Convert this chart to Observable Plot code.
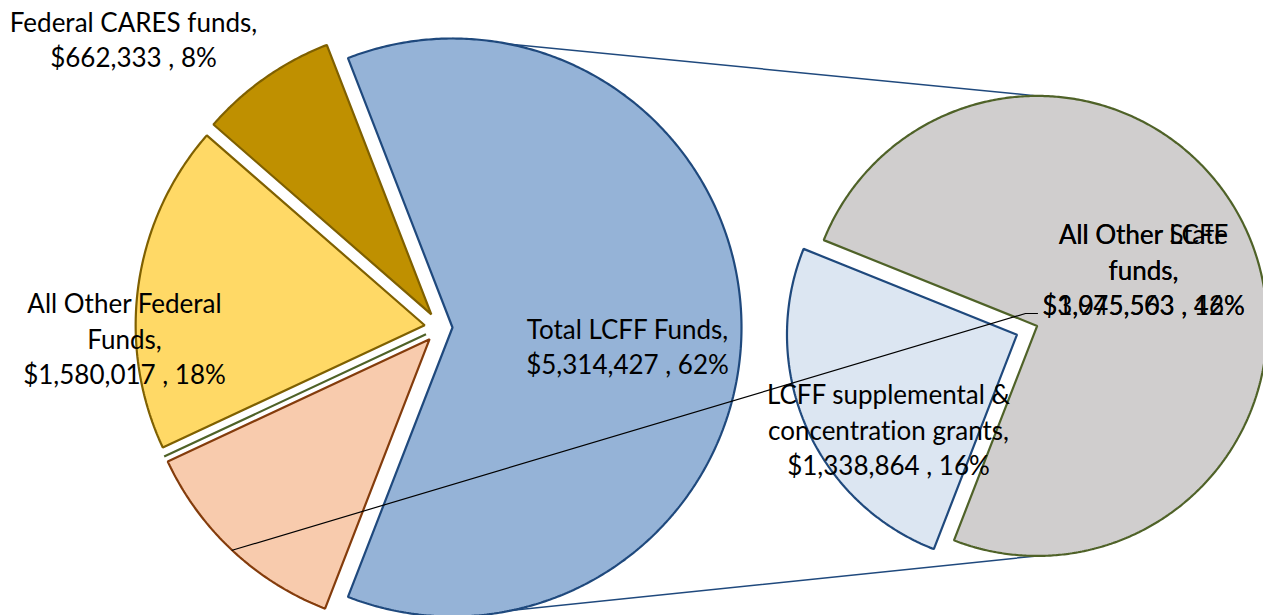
<!DOCTYPE html>
<html><head><meta charset="utf-8">
<script src="https://cdn.jsdelivr.net/npm/d3@7"></script>
<script src="https://cdn.jsdelivr.net/npm/@observablehq/plot@0.6"></script>
<style>html,body{margin:0;padding:0;background:#fff;overflow:hidden;} svg text{font-variant-ligatures:none;font-feature-settings:"liga" 0;}</style>
</head><body><div id="chart"></div>
<script>
// ---------- DATA ----------
const mainCategories = ["Total LCFF Funds", "All Other State funds", "Other", "All Other Federal Funds", "Federal CARES funds"];
const mainValues = [5314427, 1045503, 0, 1580017, 662333];
const mainLabels = ["Total LCFF Funds,", "All Other State\nfunds,", null, "All Other Federal\nFunds,", "Federal CARES funds,"];
const subCategories = ["LCFF supplemental & concentration grants", "All Other LCFF funds"];
const subValues = [1338864, 3975563];
const subLabels = ["LCFF supplemental &\nconcentration grants,", "All Other LCFF\nfunds,"];

// ---------- STYLE / LAYOUT ----------
const mainFills = ["#95B3D7", "#F8CBAD", "#FFFFFF", "#FFD966", "#BF9000"];
const mainStrokes = ["#1F497D", "#843C0C", "#4F6228", "#7F6000", "#7F6000"];
const subFills = ["#DCE6F2", "#D0CECE"];
const subStrokes = ["#1F497D", "#4F6228"];
const W = 1263, H = 615;
const main = {cx: 440, cy: 327, r: 289, explode: [12, 16, 16, 16, 16]};
const sub = {cx: 1033, cy: 327, r: 230, explode: [18, 4]};
// label block centres relative to pie centres
const mainLabelPos = [[187, 18], [110, -59, "sub"], null, [-316, 10], [-307, -289]];
const subLabelPos = [[-145, 101], [110, -59]];
const font = {fontFamily: "Lato, 'Open Sans', sans-serif", fontSize: 26, lineHeight: 1.36};

// ---------- GEOMETRY ----------
const total = d3.sum(mainValues);
const fmt = v => "$" + d3.format(",")(v);
const pct = v => Math.round(v / total * 100) + "%";
const dir = a => [Math.sin(a), -Math.cos(a)];
const lcffSpan = 2 * Math.PI * mainValues[0] / total;
const start = Math.PI / 2 - lcffSpan / 2;
const mainArcs = d3.pie().sort(null).value(d => d).startAngle(start).endAngle(start + 2 * Math.PI)(mainValues);
const subStart = mainArcs[0].endAngle;
const subArcs = d3.pie().sort(null).value(d => d).startAngle(subStart).endAngle(subStart + 2 * Math.PI)(subValues);

function slicePoly(arc, pie, e) {
  const mid = (arc.startAngle + arc.endAngle) / 2;
  const [dx, dy] = dir(mid);
  const ox = pie.cx + e * dx, oy = pie.cy + e * dy;
  const pts = [[ox, oy]];
  const n = Math.max(1, Math.ceil((arc.endAngle - arc.startAngle) / (Math.PI / 360)));
  for (let i = 0; i <= n; i++) {
    const a = arc.startAngle + (arc.endAngle - arc.startAngle) * i / n;
    const [ux, uy] = dir(a);
    pts.push([ox + pie.r * ux, oy + pie.r * uy]);
  }
  return {pts, ox, oy, mid};
}
const mainPolys = mainArcs.map((a, i) => slicePoly(a, main, main.explode[i]));
const subPolys = subArcs.map((a, i) => slicePoly(a, sub, sub.explode[i]));

const marks = [];
// series lines connecting the split slice to the secondary pie
const bl = mainPolys[0], gr = subPolys[1];
marks.push(Plot.line([[bl.ox, bl.oy - main.r], [gr.ox, gr.oy - sub.r]], {x: d => d[0], y: d => d[1], stroke: "#1F497D", strokeWidth: 1.5}));
marks.push(Plot.line([[bl.ox, bl.oy + main.r], [gr.ox, gr.oy + sub.r]], {x: d => d[0], y: d => d[1], stroke: "#1F497D", strokeWidth: 1.5}));

mainPolys.forEach((p, i) => marks.push(Plot.line(p.pts, {x: d => d[0], y: d => d[1], curve: "linear-closed", fill: mainFills[i], stroke: mainStrokes[i], strokeWidth: 2.2, strokeLinejoin: "miter"})));
subPolys.forEach((p, i) => marks.push(Plot.line(p.pts, {x: d => d[0], y: d => d[1], curve: "linear-closed", fill: subFills[i], stroke: subStrokes[i], strokeWidth: 2.2, strokeLinejoin: "miter"})));

// labels
const labels = [];
mainValues.forEach((v, i) => {
  if (!mainLabels[i]) return;
  const text = mainLabels[i] + "\n" + fmt(v) + " , " + pct(v);
  const lp = mainLabelPos[i];
  const base = lp[2] === "sub" ? sub : main;
  labels.push({x: base.cx + lp[0], y: base.cy + lp[1], text, i});
});
subValues.forEach((v, i) => {
  const text = subLabels[i] + "\n" + fmt(v) + " , " + pct(v);
  labels.push({x: sub.cx + subLabelPos[i][0], y: sub.cy + subLabelPos[i][1], text});
});

// leader line for the moved "All Other State funds" label
const st = labels.find(d => d.i === 1);
const pe = mainPolys[1]; const [pdx, pdy] = dir(pe.mid);
const lead = [[pe.ox + main.r * pdx, pe.oy + main.r * pdy], [st.x - 118, st.y + 45], [st.x - 106, st.y + 45]];
marks.push(Plot.line(lead, {x: d => d[0], y: d => d[1], stroke: "#000", strokeWidth: 1.2}));

marks.push(Plot.text(labels, {x: "x", y: "y", text: "text", fill: "#000", textAnchor: "middle", lineAnchor: "middle", ...font}));

const chart = Plot.plot({
  width: W, height: H, margin: 0,
  x: {domain: [0, W], range: [0, W], axis: null},
  y: {domain: [0, H], range: [0, H], axis: null},
  marks
});
document.getElementById("chart").appendChild(chart);
</script>
</body></html>
